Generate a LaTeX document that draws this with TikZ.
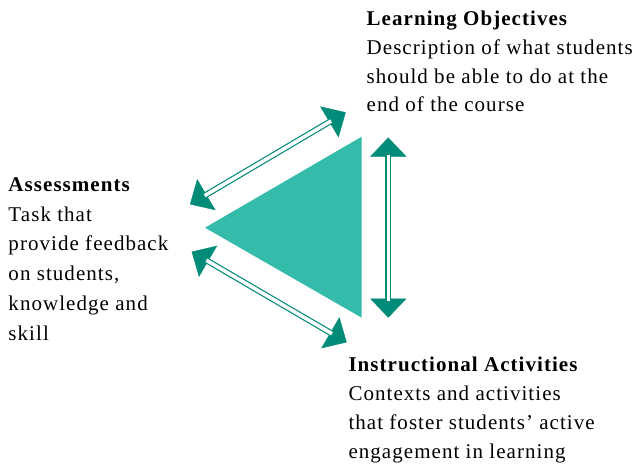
\documentclass[tikz,border=0pt]{standalone}
\usepackage{fontspec}
\setmainfont{Liberation Serif}[LetterSpace=5]
\usetikzlibrary{arrows.meta}
\definecolor{tri}{HTML}{34BBAA}
\definecolor{arr}{HTML}{008C78}
\begin{document}
\begin{tikzpicture}[x=1pt,y=-1pt,
  txt/.style={anchor=base west, align=left, inner sep=0pt},
  heads/.style={draw=arr, fill=arr, line width=0.4pt,
    {Triangle[width=36pt,length=19pt]}-{Triangle[width=36pt,length=19pt]}},
  shaft/.style={draw=arr, line width=1.2pt, double=white, double distance=3.6pt,
    shorten <=17pt, shorten >=17pt}]
\fill[white] (0,0) rectangle (640,466);
\useasboundingbox (0,0) rectangle (640,466);
% central triangle
\coordinate (ttop) at (361.7,136.7);
\coordinate (tbot) at (361.7,317.7);
\coordinate (tleft) at (205,227.7);
\fill[tri] (ttop) -- (tbot) -- (tleft) -- cycle;
% arrow end points
\coordinate (a1s) at (190,204.3);
\coordinate (a1e) at (345.7,112.3);
\coordinate (a2s) at (191.7,251.7);
\coordinate (a2e) at (346.7,342.3);
\coordinate (a3s) at (388.3,137.5);
\coordinate (a3e) at (388.3,317.7);
\foreach \s/\e in {a1s/a1e,a2s/a2e,a3s/a3e}{
  \draw[heads] (\s) -- (\e);
  \draw[shaft] (\s) -- (\e);
}
% texts (anchored at the baseline of their last line)
\node[txt, font=\fontsize{21}{28.6}\selectfont] (lo) at (366.5,111.7)
  {\textbf{Learning Objectives}\\Description of what students\\should be able to do at the\\end of the course};
\node[txt, font=\fontsize{21}{29.7}\selectfont] (as) at (8.3,340)
  {\textbf{Assessments}\\Task that\\provide feedback\\on students,\\knowledge and\\skill};
\node[txt, font=\fontsize{21}{28.9}\selectfont] (ia) at (348.3,458.3)
  {\textbf{Instructional Activities}\\Contexts and activities\\that foster students’ active\\engagement in learning};
\end{tikzpicture}
\end{document}
